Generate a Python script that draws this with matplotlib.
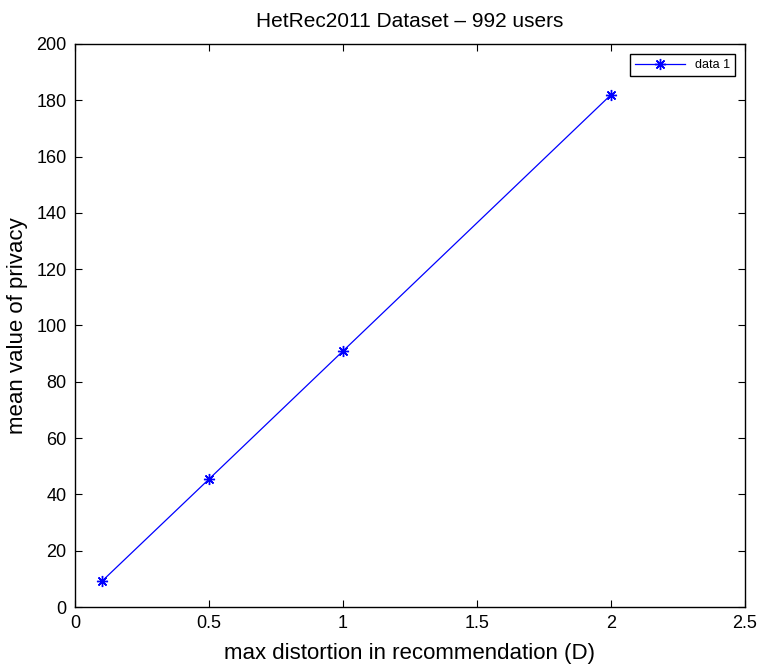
import matplotlib
matplotlib.use("Agg")
import matplotlib.pyplot as plt

plt.rcParams['font.family'] = ['Liberation Sans', 'DejaVu Sans']

distortion = [0.1, 0.5, 1.0, 2.0]
privacy = [9.1, 45.4, 90.9, 181.9]

fig = plt.figure(figsize=(7.57, 6.68), dpi=100)
ax = fig.add_axes([0.099, 0.0913, 0.885, 0.843])

ax.plot(distortion, privacy, color='blue', marker=(8, 2, 0), markersize=8,
        markeredgewidth=1.0, linewidth=0.9, label='data 1')

ax.set_xlim(0, 2.5)
ax.set_ylim(0, 200)
ax.set_xticks([0, 0.5, 1, 1.5, 2, 2.5])
ax.set_xticklabels(['0', '0.5', '1', '1.5', '2', '2.5'])
ax.set_yticks(range(0, 201, 20))
ax.tick_params(direction='in', top=True, right=True, labelsize=13, length=5, pad=6)
for s in ax.spines.values():
    s.set_linewidth(1.0)

ax.set_xlabel('max distortion in recommendation (D)', fontsize=16, labelpad=8)
ax.set_ylabel('mean value of privacy', fontsize=16, labelpad=6)
ax.set_title('HetRec2011 Dataset \u2013 992 users', fontsize=15, pad=12)

leg = ax.legend(loc='upper right', fontsize=9, fancybox=False, framealpha=1,
                edgecolor='black', handlelength=4, borderaxespad=0.8)
leg.get_frame().set_linewidth(1.0)

fig.savefig('out.png', dpi=100)
